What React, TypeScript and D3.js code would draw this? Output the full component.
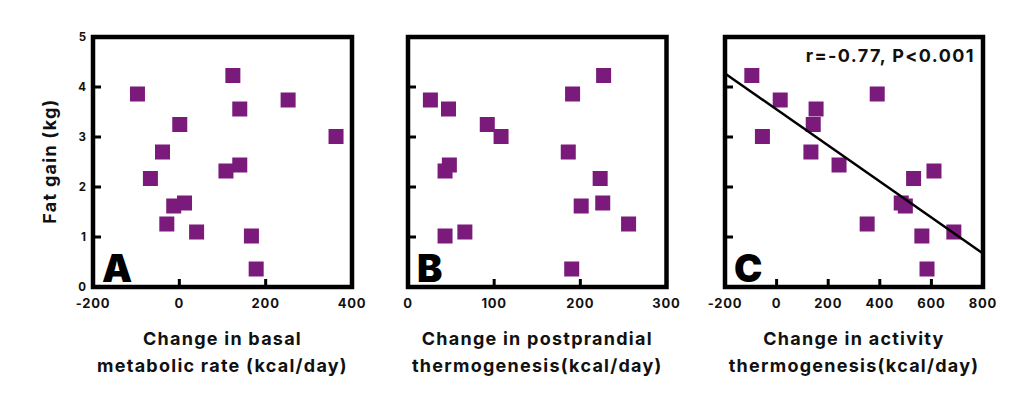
import React from "react";
import * as d3 from "d3";

const fatGain = [4.23, 3.86, 3.74, 3.56, 3.25, 3.01, 2.7, 2.44, 2.32, 2.17, 1.68, 1.62, 1.26, 1.1, 1.02, 0.36];
const basalChange = [124, -97, 252, 140, 1, 363, -39, 140, 108, -67, 12, -13, -29, 40, 167, 178];
const postprandialChange = [227, 191, 26, 47, 92, 108, 186, 48, 43, 223, 226, 201, 256, 66, 43, 190];
const activityChange = [-96, 390, 14, 153, 142, -55, 133, 242, 610, 531, 483, 499, 351, 687, 563, 583];

const yTicks = [0, 1, 2, 3, 4, 5];
const ticksA = [-200, 0, 200, 400];
const ticksB = [0, 100, 200, 300];
const ticksC = [-200, 0, 200, 400, 600, 800];
const fitX = [-200, 800];
const fitY = [4.27, 0.67];

const FONT = "Inter, 'Open Sans', sans-serif";
const PURPLE = "#7a1a7a";

type Panel = {
  letter: string;
  xs: number[];
  domain: [number, number];
  ticks: number[];
  range: [number, number];
  title: [string, string];
  showY: boolean;
};

const panels: Panel[] = [
  { letter: "A", xs: basalChange, domain: [-200, 400], ticks: ticksA, range: [93, 352], title: ["Change in basal", "metabolic rate (kcal/day)"], showY: true },
  { letter: "B", xs: postprandialChange, domain: [0, 300], ticks: ticksB, range: [408, 666.5], title: ["Change in postprandial", "thermogenesis(kcal/day)"], showY: false },
  { letter: "C", xs: activityChange, domain: [-200, 800], ticks: ticksC, range: [725, 983], title: ["Change in activity", "thermogenesis(kcal/day)"], showY: false },
];

const y = d3.scaleLinear().domain([0, 5]).range([287, 37]);

export default function App() {
  const size = 15;
  const titleStyle = { fontSize: 18, fontWeight: 700, letterSpacing: 1.25 } as const;
  return (
    <svg width={1024} height={419} style={{ position: "fixed", left: 0, top: 0, background: "#fff" }} fontFamily={FONT}>
      <rect width={1024} height={419} fill="#fff" />
      <text transform="translate(56,161) rotate(-90)" textAnchor="middle" fill="#111" style={titleStyle}>Fat gain (kg)</text>
      {panels.map((p) => {
        const x = d3.scaleLinear().domain(p.domain).range(p.range);
        const [x0, x1] = p.range;
        const cx = (x0 + x1) / 2;
        const inner = p.ticks.filter((t) => t !== p.domain[0] && t !== p.domain[1]);
        const innerY = yTicks.filter((t) => t !== 0 && t !== 5);
        const clipId = "clip" + p.letter;
        return (
          <g key={p.letter}>
            <clipPath id={clipId}>
              <rect x={x0} y={37} width={x1 - x0} height={250} />
            </clipPath>
            {inner.map((t) => (
              <line key={"xt" + t} x1={x(t)} x2={x(t)} y1={287} y2={279} stroke="#000" strokeWidth={3} />
            ))}
            {innerY.map((t) => (
              <line key={"yt" + t} x1={x0} x2={x0 + 8} y1={y(t)} y2={y(t)} stroke="#000" strokeWidth={3} />
            ))}
            {p.ticks.map((t) => (
              <text key={"xl" + t} x={x(t)} y={308} textAnchor="middle" fontSize={13} fontWeight={700} letterSpacing={0.8} fill="#111">{t}</text>
            ))}
            {p.showY && yTicks.map((t) => (
              <text key={"yl" + t} x={86} y={y(t) + 4} textAnchor="end" fontSize={11.5} fontWeight={700} fill="#111">{t}</text>
            ))}
            {p.xs.map((v, i) => (
              <rect key={"pt" + i} x={x(v) - size / 2} y={y(fatGain[i]) - size / 2} width={size} height={size} fill={PURPLE} />
            ))}
            {p.letter === "C" && (
              <g clipPath={`url(#${clipId})`}>
                <line x1={x(fitX[0])} y1={y(fitY[0])} x2={x(fitX[1])} y2={y(fitY[1])} stroke="#000" strokeWidth={2.5} />
              </g>
            )}
            <rect x={x0} y={37} width={x1 - x0} height={250} fill="none" stroke="#000" strokeWidth={4.5} />
            <text x={x0 + 9} y={282} fontSize={38} fontWeight={900} fill="#000">{p.letter}</text>
            <text x={cx} y={345} textAnchor="middle" fill="#111" style={titleStyle}>{p.title[0]}</text>
            <text x={cx} y={372} textAnchor="middle" fill="#111" style={titleStyle}>{p.title[1]}</text>
            {p.letter === "C" && (
              <text x={975} y={62} textAnchor="end" fill="#111" style={{ ...titleStyle, letterSpacing: 1.4 }}>r=-0.77, P&lt;0.001</text>
            )}
          </g>
        );
      })}
    </svg>
  );
}
